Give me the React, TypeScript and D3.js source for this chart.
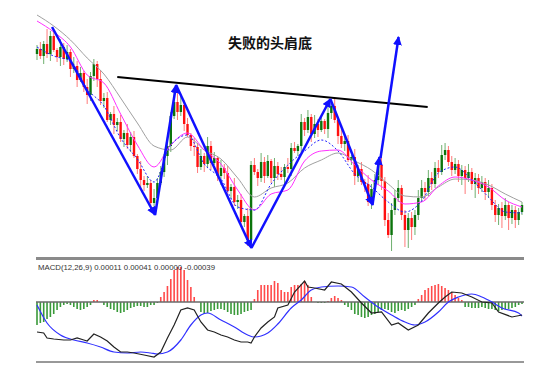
import React from 'react';
import * as d3 from 'd3';

// candle data (arbitrary price units)
const opens = [
  206, 211, 204, 216, 206, 224, 210, 203, 213, 201,
  208, 191, 194, 180, 187, 173, 165, 184, 196, 181,
  159, 162, 140, 146, 135, 138, 121, 127, 115, 123,
  104, 91, 80, 75, 77, 57, 62, 77, 88, 104,
  114, 144, 158, 148, 155, 136, 125, 114, 113, 93,
  104, 96, 114, 97, 102, 84, 92, 87, 69, 73,
  58, 60, 38, 44, 20, 95, 88, 82, 98, 84,
  99, 82, 94, 86, 83, 93, 91, 112, 109, 114,
  138, 130, 143, 126, 136, 130, 139, 131, 147, 154,
  140, 124, 116, 119, 100, 103, 84, 91, 78, 76,
  58, 71, 80, 95, 79, 40, 25, 50, 62, 72,
  45, 30, 42, 33, 45, 62, 72, 68, 82, 76,
  92, 88, 105, 110, 98, 90, 96, 84, 90, 82,
  88, 76, 82, 72, 78, 68, 72, 55, 45, 52,
  44, 55, 42, 50, 40, 48,
];
const closes = [
  211, 204, 216, 206, 224, 210, 203, 213, 201, 208,
  191, 194, 180, 187, 173, 165, 184, 196, 181, 159,
  162, 140, 146, 135, 138, 121, 127, 115, 123, 104,
  91, 80, 75, 77, 57, 62, 77, 88, 104, 114,
  144, 158, 148, 155, 136, 125, 114, 113, 93, 104,
  96, 114, 97, 102, 84, 92, 87, 69, 73, 58,
  60, 38, 44, 20, 95, 88, 82, 98, 84, 99,
  82, 94, 86, 83, 93, 91, 112, 109, 114, 138,
  130, 143, 126, 136, 130, 139, 131, 147, 154, 140,
  124, 116, 119, 100, 103, 84, 91, 78, 76, 58,
  71, 80, 95, 79, 40, 25, 50, 62, 72, 45,
  30, 42, 33, 45, 62, 72, 68, 82, 76, 92,
  88, 105, 110, 98, 90, 96, 84, 90, 82, 88,
  76, 82, 72, 78, 68, 72, 55, 45, 52, 44,
  55, 42, 50, 40, 48, 55,
];
const highs = [
  215, 218, 219, 231, 229, 230, 212, 221, 217, 215,
  211, 203, 199, 193, 189, 181, 188, 201, 199, 190,
  167, 168, 148, 154, 142, 145, 130, 136, 128, 129,
  106, 99, 84, 84, 80, 71, 82, 94, 106, 122,
  148, 168, 170, 164, 160, 142, 127, 122, 117, 111,
  107, 123, 119, 108, 104, 100, 96, 94, 76, 82,
  65, 66, 46, 52, 99, 102, 91, 107, 103, 105,
  101, 102, 98, 93, 96, 102, 117, 118, 116, 146,
  142, 150, 146, 145, 141, 145, 141, 155, 160, 161,
  143, 133, 124, 125, 105, 111, 95, 98, 81, 85,
  76, 86, 97, 103, 83, 47, 57, 70, 80, 75,
  50, 47, 48, 50, 70, 80, 78, 90, 88, 98,
  100, 115, 117, 114, 104, 102, 100, 95, 94, 96,
  92, 87, 86, 84, 82, 80, 76, 60, 56, 58,
  62, 58, 55, 54, 52, 58,
];
const lows = [
  200, 201, 196, 202, 199, 208, 198, 194, 195, 198,
  183, 187, 173, 178, 168, 156, 159, 179, 173, 155,
  152, 138, 135, 126, 129, 118, 113, 111, 108, 102,
  86, 71, 69, 72, 49, 53, 55, 75, 83, 95,
  108, 141, 140, 144, 129, 123, 109, 104, 87, 90,
  88, 92, 90, 95, 79, 75, 81, 66, 61, 54,
  51, 36, 33, 14, 17, 85, 74, 78, 77, 82,
  77, 73, 80, 80, 75, 87, 84, 107, 104, 105,
  124, 127, 118, 122, 123, 128, 126, 122, 141, 137,
  116, 112, 109, 98, 95, 75, 78, 75, 68, 54,
  51, 69, 75, 70, 34, 22, 9, 45, 58, 40,
  13, 12, 20, 25, 40, 58, 60, 64, 70, 72,
  82, 85, 100, 94, 84, 86, 78, 75, 66, 78,
  70, 62, 66, 68, 60, 62, 50, 38, 35, 32,
  40, 30, 36, 32, 35, 45,
];

// moving averages, sampled every 5 bars
const maIndex = [0, 5, 10, 15, 20, 25, 30, 35, 40, 45, 50, 55, 60, 65, 70, 75, 80, 85, 90, 95, 100, 105, 110, 115, 120, 125, 130, 135, 140, 145];
const maSlow = [245, 234, 220, 202, 186, 162, 137, 114, 110, 123, 110, 101, 82, 63, 72, 77, 92, 100, 107, 99, 90, 76, 64, 63, 73, 81, 80, 75, 66, 58];
const maMid = [239, 228, 213, 185, 177, 146, 115, 93, 115, 127, 110, 96, 70, 50, 66, 70, 99, 109, 110, 95, 80, 69, 56, 58, 74, 83, 80, 73, 60, 53];
const maFast = [213, 204, 199, 171, 154, 122, 101, 78, 115, 125, 96, 81, 53, 50, 76, 95, 109, 120, 109, 86, 73, 58, 48, 59, 87, 93, 80, 63, 48, 47];

// MACD panel
const macdHist = [
  -23, -21, -20, -17, -15, -12, -8, -5, -3, -2,
  -3, -5, -7, -8, -7, -5, -3, 2, 2, 0,
  -3, -5, -7, -8, -10, -11, -10, -8, -6, -5,
  -4, -4, -5, -5, -3, -3, -1, 5, 10, 16,
  23, 32, 35, 35, 32, 22, 15, 5, 0, -10,
  -12, -11, -9, -8, -7, -7, -8, -10, -12, -13,
  -13, -12, -10, -9, -8, 3, 12, 17, 17, 17,
  17, 21, 19, 12, 10, 10, 15, 17, 17, 18,
  21, 17, 5, 0, -1, -1, -1, 1, 4, 6,
  4, 2, -3, -5, -8, -12, -13, -15, -16, -15,
  -13, -12, -10, -8, -7, -8, -10, -11, -9, -8,
  -9, -7, -5, -3, 3, 7, 12, 14, 16, 17,
  18, 16, 14, 12, 10, 7, 4, 2, -5, -5,
  -6, -6, -6, -5, -6, -7, -7, -8, -9, -8,
  -7, -7, -6, -5, -3, -2,
];
const macdIdx = [0, 2, 3, 5, 8, 10, 12, 14, 15, 17, 19, 21, 23, 25, 27, 29, 32, 35, 37, 39, 41, 43, 45, 47, 49, 51, 53, 55, 57, 59, 61, 63, 64, 65, 67, 69, 71, 72, 75, 77, 80, 81, 83, 86, 88, 91, 94, 97, 100, 103, 106, 108, 111, 114, 117, 120, 122, 124, 127, 130, 133, 136, 138, 142, 145];
const macdVals = [-30, -31, -36, -37, -38, -38, -36, -38, -39, -32, -35, -39, -45, -50, -50, -51, -53, -55, -50, -36, -23, -8, -6, -8, -20, -28, -30, -33, -35, -38, -40, -40, -41, -35, -26, -20, -15, -6, -3, 10, 21, 15, 14, 12, 20, 18, 10, -1, -11, -10, -23, -21, -28, -23, -11, -1, 5, 10, 9, 5, 0, -1, -10, -15, -13];
const signalIdx = [0, 3, 7, 11, 15, 19, 23, 27, 31, 34, 36, 39, 43, 46, 49, 51, 55, 59, 63, 65, 69, 72, 76, 79, 82, 85, 90, 94, 98, 102, 106, 110, 113, 116, 120, 123, 126, 130, 133, 136, 139, 144, 145];
const signalVals = [-3, -21, -33, -38, -41, -45, -50, -51, -50, -51, -52, -50, -38, -23, -13, -11, -18, -25, -33, -35, -31, -22, -6, 2, 12, 15, 16, 15, 5, -5, -13, -20, -23, -20, -10, 0, 5, 8, 5, 0, -6, -11, -14];
const macdLabel = 'MACD(12,26,9) 0.00011 0.00041 0.00000 -0.00039';

// annotations (bar index, price)
const zigIdx = [4.5, 35.3, 41.6, 64.1, 87.7, 100.3, 102.4];
const zigPrice = [233, 45, 175, 12, 161, 55, 103];
const breakIdx = [102.7, 108.1];
const breakPrice = [102, 223];
const neckIdx = [24, 116.8];
const neckPrice = [183, 153];
const title = '失败的头肩底';

const W = 549;
const H = 389;

export default function App() {
  const n = closes.length;
  const x = d3.scaleLinear().domain([0, n - 1]).range([37, 522]);
  const y = d3.scaleLinear().domain([0, 250]).range([260, 10]);
  const ym = d3.scaleLinear().domain([-60, 44]).range([362, 258]);

  const maLine = d3.line<number>()
    .x((_, i) => x(maIndex[i]))
    .y(d => y(d))
    .curve(d3.curveMonotoneX);

  const macdLine = d3.line<number>().x((_, i) => x(macdIdx[i])).y(d => ym(d));
  const sigLine = d3.line<number>()
    .x((_, i) => x(signalIdx[i]))
    .y(d => ym(d))
    .curve(d3.curveMonotoneX);

  const zigSegs = zigIdx.slice(1).map((v, i) => ({
    x1: x(zigIdx[i]), y1: y(zigPrice[i]), x2: x(v), y2: y(zigPrice[i + 1]),
  }));

  return (
    <svg width={W} height={H} style={{ position: 'absolute', left: 0, top: 0, background: '#fff' }}>
      <defs>
        <marker id="ah" viewBox="0 0 10 10" refX="9" refY="5" markerWidth="3.6" markerHeight="3.6" orient="auto">
          <path d="M0,0 L10,5 L0,10 z" fill="#1010ff" />
        </marker>
      </defs>

      <text x={270} y={48} textAnchor="middle" fontFamily="Noto Sans CJK SC" fontWeight="bold" fontSize={14} fill="#111">
        {title}
      </text>

      {/* candles */}
      {closes.map((c, i) => {
        const o = opens[i];
        const up = c >= o;
        const top = y(Math.max(o, c));
        const bot = y(Math.min(o, c));
        return (
          <g key={i}>
            <line x1={x(i)} x2={x(i)} y1={y(highs[i])} y2={y(lows[i])}
              stroke={up ? '#6fb06f' : '#ff7a7a'} strokeWidth={1} />
            <rect x={x(i) - 1.2} width={2.4} y={top} height={Math.max(1, bot - top)}
              fill={up ? '#0b740b' : '#ff1010'} />
          </g>
        );
      })}

      {/* moving averages */}
      <path d={maLine(maSlow) || ''} fill="none" stroke="#a0a0a0" strokeWidth={1} />
      <path d={maLine(maMid) || ''} fill="none" stroke="#ff30ff" strokeWidth={1} />
      <path d={maLine(maFast) || ''} fill="none" stroke="#2020ff" strokeWidth={1} strokeDasharray="2,2" />

      {/* neckline and arrows */}
      <line x1={x(neckIdx[0])} y1={y(neckPrice[0])} x2={x(neckIdx[1])} y2={y(neckPrice[1])}
        stroke="#000" strokeWidth={2} />
      {zigSegs.map((s, i) => (
        <line key={i} {...s} stroke="#1010ff" strokeWidth={2.5} markerEnd="url(#ah)" />
      ))}
      <line x1={x(breakIdx[0])} y1={y(breakPrice[0])} x2={x(breakIdx[1])} y2={y(breakPrice[1])}
        stroke="#1010ff" strokeWidth={2.5} markerEnd="url(#ah)" />

      {/* MACD panel */}
      <rect x={36} y={257} width={488} height={3} fill="#8a8a8a" />
      {macdHist.map((v, i) => (
        <rect key={i} x={x(i) - 0.8} width={1.6}
          y={v >= 0 ? ym(v) : ym(0)} height={Math.abs(ym(v) - ym(0))}
          fill={v >= 0 ? '#ff4a4a' : '#3a9a3a'} />
      ))}
      <line x1={36} x2={524} y1={ym(0)} y2={ym(0)} stroke="#6a6a6a" strokeWidth={1.5} />
      <path d={sigLine(signalVals) || ''} fill="none" stroke="#3030ff" strokeWidth={1.2} />
      <path d={macdLine(macdVals) || ''} fill="none" stroke="#222" strokeWidth={1.2} />
      <line x1={36} x2={524} y1={362} y2={362} stroke="#333" strokeWidth={1} />
      <text x={38} y={270} fontFamily="Liberation Sans" fontSize={8} fill="#333"
        textLength={177} lengthAdjust="spacingAndGlyphs">
        {macdLabel}
      </text>
    </svg>
  );
}
